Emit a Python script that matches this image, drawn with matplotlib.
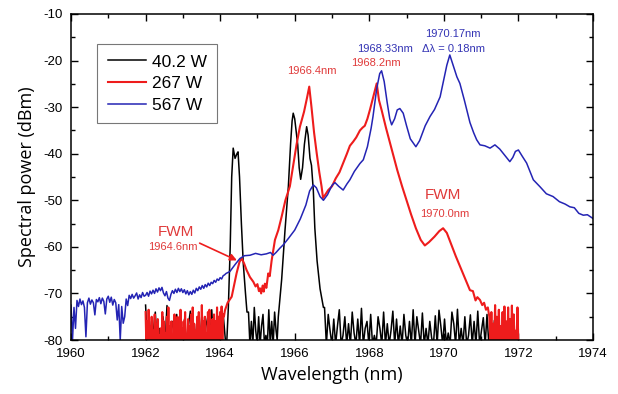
import numpy as np
import matplotlib
matplotlib.use("Agg")
import matplotlib.pyplot as plt
from matplotlib.ticker import MultipleLocator

# ---- data (wavelength in nm, power in dBm) ----
labels = ["40.2 W", "267 W", "567 W"]

# 40.2 W : noise floor + two signal peaks
black_noise_a = [-72.5, -81, -76, -81, -78, -74, -81, -77.5, -81, -75, -81, -72.6, -81, -78,
                 -76, -81, -74.5, -81, -79, -81, -75.5, -81, -77, -73.8, -81, -76.5, -81,
                 -78.5, -81, -74, -81, -77, -75, -81, -73.5, -81, -78, -81, -76, -81, -75, -80]
black_peaks_x = [1964.18, 1964.22, 1964.27, 1964.31, 1964.35, 1964.40, 1964.45, 1964.48,
                 1964.52, 1964.57, 1964.62, 1964.68, 1964.72]
black_peaks_y = [-80, -73, -60, -45, -38.8, -41, -40, -39.6, -45, -55, -63.5, -70, -74]
black_noise_b = [-74, -81, -76, -81, -73, -78, -81, -75, -81, -77, -74.5, -81, -79, -81,
                 -73.5, -81, -76, -81, -74, -78]
black_peak2_x = [1965.53, 1965.56, 1965.65, 1965.74, 1965.83, 1965.89, 1965.93, 1965.96,
                 1966.00, 1966.03, 1966.08, 1966.12, 1966.16, 1966.21, 1966.26, 1966.32,
                 1966.36, 1966.41, 1966.45, 1966.50, 1966.54, 1966.60, 1966.68, 1966.77]
black_peak2_y = [-80, -75, -67, -56.4, -47, -37.8, -33, -31.3, -32.5, -34.5, -38, -43,
                 -45.5, -43, -38, -34.2, -36, -41, -42.5, -48, -56, -63, -69, -73]
black_noise_c = [-73.0, -81, -74.5, -78, -81, -75.5, -81, -77, -73.5, -81, -79, -75, -81,
                 -76.5, -81, -74, -78.5, -81, -75.5, -81, -73.2, -81, -77.5, -76, -81, -74.5,
                 -81, -79, -81, -75, -77.5, -81, -74, -81, -76.5, -81, -78, -73.8, -81, -75.5,
                 -81, -77, -81, -74.5, -79, -81, -76, -81, -73.5, -81, -75, -78, -81, -74.2,
                 -81, -77.5, -81, -76, -79.5, -81, -74.8, -81, -73.6, -77, -81, -75.5, -81,
                 -78.5, -81, -74, -76.5, -81, -73.4, -81, -77.5, -81, -75, -81, -79, -74.6,
                 -81, -76, -81, -73.8, -81, -78, -75.2, -81, -74.5, -81, -77, -81, -75.8, -81,
                 -76.5, -81, -78.5, -81, -77, -81, -79, -81, -78, -81, -80]

# 267 W
red_noise_a = [-74, -81, -76, -81, -73.5, -81, -77, -81, -75, -81, -78, -81, -74.5, -81,
               -76.5, -81, -75.5, -81, -79, -81, -77.5, -81, -74, -81, -76, -81, -78.5, -81,
               -75, -81, -73, -81, -77, -81, -76, -81, -79.5, -81, -74.5, -81, -76.5, -81,
               -75, -81, -78, -81, -73.5, -81, -77.5, -81, -76, -81, -74, -81, -79, -81,
               -75.5, -81, -77, -81, -74.5, -81, -73, -81, -76.5, -81, -78, -81, -75, -81,
               -74, -81, -77.5, -81, -72.5, -81, -76, -81, -75, -81, -78.5, -81, -74, -81,
               -73.5, -81, -77, -81, -75.5, -81, -74.5, -81, -76, -81, -73, -81, -75, -81,
               -74, -81, -72.8, -81, -74.5]
red_main_x = [1964.10, 1964.13, 1964.20, 1964.31, 1964.38, 1964.44, 1964.52, 1964.58, 1964.64,
              1964.71, 1964.80, 1964.89, 1964.95, 1965.00, 1965.04, 1965.07, 1965.10, 1965.14,
              1965.17, 1965.20, 1965.24, 1965.29, 1965.33, 1965.38, 1965.47, 1965.56, 1965.65,
              1965.75, 1965.87, 1965.95, 1966.05, 1966.14, 1966.25, 1966.33, 1966.39, 1966.45,
              1966.52, 1966.59, 1966.66, 1966.72, 1966.76, 1966.82, 1966.90, 1967.00, 1967.10,
              1967.20, 1967.30, 1967.40, 1967.48, 1967.57, 1967.65, 1967.75, 1967.82, 1967.88,
              1967.95, 1968.02, 1968.10, 1968.15, 1968.20, 1968.26, 1968.33, 1968.45, 1968.60,
              1968.75, 1968.88, 1969.00, 1969.12, 1969.25, 1969.38, 1969.49, 1969.60, 1969.75,
              1969.88, 1969.98, 1970.08, 1970.20, 1970.32, 1970.45, 1970.58, 1970.70, 1970.78,
              1970.85, 1970.90, 1970.97, 1971.03, 1971.08, 1971.13, 1971.18, 1971.22]
red_main_y = [-75, -73.6, -72, -70.7, -68, -65.7, -63.2, -62.5, -63.5, -65, -66.5, -67.5,
              -68.5, -68, -69.5, -68.9, -70, -68.3, -69.6, -67.9, -68.8, -65.7, -66.3, -63,
              -58.5, -56.4, -53.5, -50, -47, -43, -38, -34.2, -31, -28, -25.6, -30, -35.5,
              -39.9, -44, -47, -49.5, -48.8, -47.8, -47, -45.3, -44, -42, -40, -38.3, -37.4,
              -36.5, -35, -34.4, -34, -32.5, -30.5, -28, -26.5, -24.9, -28.5, -30.6, -34.5,
              -39, -43.5, -47, -50, -53, -56, -58.5, -59.7, -59, -57.8, -56.6, -56, -57,
              -59.5, -62, -64.5, -67, -69.3, -69.5, -71.5, -70.8, -71.4, -72.5, -72, -73.5,
              -73, -75]
red_noise_b = [-81, -74, -81, -76.5, -81, -72.5, -81, -75, -81, -73.5, -81, -77, -81, -74,
               -81, -72.8, -81, -76, -81, -73, -81, -75.5, -81, -72.6, -81, -74.5, -81, -78,
               -81, -73, -81]

# 567 W
blue_noise_a = [-72.5, -80, -73, -77.5, -71.5, -72.8, -71.2, -72.4, -71.6, -73.0, -79.3, -72.0,
                -71.0, -72.3, -71.4, -72.0, -74.6, -71.3, -71.8, -70.9, -72.2, -71.0, -71.7,
                -74.4, -71.2, -70.6, -71.9, -70.8, -72.5, -71.3, -72.0, -75.7, -72.4, -80,
                -72.8, -76.4, -75.0, -71.2, -72.6, -70.4, -71.1, -70.2, -71.0, -70.5, -69.9,
                -71.2, -70.3, -70.9, -69.8, -70.6]
blue_noise_b = [-70.4, -69.8, -70.6, -69.5, -70.1, -69.3, -70.0, -69.0, -69.7, -68.8, -69.4,
                -68.7, -69.9, -70.5, -69.6, -71.0, -71.5, -70.2, -69.4, -70.0, -69.1, -69.8,
                -68.9, -69.6, -69.0, -69.8, -69.2, -70.1, -69.4, -70.3, -69.6, -70.2, -69.3,
                -69.9, -68.9, -69.4, -68.6, -69.1, -68.3, -68.9, -68.1, -68.6, -67.8, -68.3,
                -67.6, -67.9, -67.2, -67.6, -66.9, -67.2, -66.6, -66.9, -66.2, -66.0, -65.7]
blue_main_x = [1964.26, 1964.40, 1964.53, 1964.65, 1964.80, 1964.95, 1965.10, 1965.24, 1965.35,
               1965.42, 1965.50, 1965.60, 1965.70, 1965.83, 1966.00, 1966.15, 1966.30, 1966.40,
               1966.50, 1966.58, 1966.68, 1966.77, 1966.88, 1967.00, 1967.08, 1967.18, 1967.30,
               1967.40, 1967.48, 1967.60, 1967.75, 1967.84, 1967.95, 1968.05, 1968.10, 1968.20,
               1968.28, 1968.33, 1968.40, 1968.48, 1968.55, 1968.60, 1968.68, 1968.75, 1968.82,
               1968.91, 1969.00, 1969.10, 1969.25, 1969.35, 1969.50, 1969.63, 1969.75, 1969.90,
               1970.00, 1970.08, 1970.16, 1970.25, 1970.35, 1970.43, 1970.55, 1970.70, 1970.80,
               1970.88, 1970.97, 1971.10, 1971.24, 1971.37, 1971.50, 1971.65, 1971.77, 1971.85,
               1971.92, 1972.00, 1972.10, 1972.22, 1972.40, 1972.58, 1972.75, 1972.93, 1973.10,
               1973.25, 1973.38, 1973.50, 1973.62, 1973.74, 1973.85, 1974.00]
blue_main_y = [-65.3, -63.8, -62.5, -61.9, -61.8, -61.4, -61.7, -61.5, -61.2, -61.8, -61.2,
               -60.3, -59.5, -58.2, -56.4, -54, -51, -48, -46.7, -47.3, -49.2, -50, -48.8, -46.8,
               -46.2, -47, -47.8, -46.5, -45.6, -43.8, -42.1, -41.3, -38.5, -34.5, -32, -26,
               -22.8, -22.2, -24.5, -29, -32.5, -33.8, -32.5, -30.6, -30.3, -31.3, -34, -36.8,
               -38.5, -37.2, -34, -32, -30.5, -27.8, -24, -21, -18.8, -21, -23.5, -24.9, -28.5,
               -33.3, -35.5, -37, -38.1, -38.3, -38.8, -38.1, -39, -40.5, -41.7, -40.8, -39.5,
               -39.2, -40.5, -42, -45.6, -47.1, -48.6, -49.2, -50.3, -50.8, -51.4, -51.6, -52.8,
               -53.2, -53.1, -53.9]

RED = "#ee1c1c"
BLUE = "#2424b4"
RED_TXT = "#e03a3a"
BLUE_TXT = "#3434b4"

# assemble the three traces
bx = np.concatenate([np.linspace(1962.0, 1964.14, len(black_noise_a)), black_peaks_x,
                     np.linspace(1964.76, 1965.50, len(black_noise_b)), black_peak2_x,
                     np.linspace(1966.80, 1971.95, len(black_noise_c))])
by = np.concatenate([black_noise_a, black_peaks_y, black_noise_b, black_peak2_y, black_noise_c])

rx = np.concatenate([np.linspace(1962.0, 1964.08, len(red_noise_a)), red_main_x,
                     np.linspace(1971.25, 1972.0, len(red_noise_b))])
ry = np.concatenate([red_noise_a, red_main_y, red_noise_b])

ux = np.concatenate([np.linspace(1960.0, 1961.96, len(blue_noise_a)),
                     np.linspace(1962.0, 1964.16, len(blue_noise_b)), blue_main_x])
uy = np.concatenate([blue_noise_a, blue_noise_b, blue_main_y])

plt.rcParams["font.family"] = ["Liberation Sans", "DejaVu Sans"]
plt.rcParams["axes.unicode_minus"] = False

fig = plt.figure(figsize=(6.18, 3.94), dpi=100)
ax = fig.add_axes([0.1149, 0.137, 0.8446, 0.8275])

ax.plot(bx, by, color="black", lw=1.1, label=labels[0])
ax.plot(rx, ry, color=RED, lw=1.5, label=labels[1])
ax.plot(ux, uy, color=BLUE, lw=1.1, label=labels[2])

ax.set_xlim(1960, 1974)
ax.set_ylim(-80, -10)
ax.xaxis.set_major_locator(MultipleLocator(2))
ax.xaxis.set_minor_locator(MultipleLocator(1))
ax.yaxis.set_major_locator(MultipleLocator(10))
ax.yaxis.set_minor_locator(MultipleLocator(5))
ax.tick_params(which="both", direction="in", top=True, right=True, labelsize=9.5, width=1)
ax.tick_params(which="major", length=5)
ax.tick_params(axis="x", which="major", pad=6)
ax.tick_params(axis="y", which="major", pad=6)
ax.tick_params(which="minor", length=3)
for s in ax.spines.values():
    s.set_linewidth(1.1)

ax.set_xlabel("Wavelength (nm)", fontsize=13, family="Open Sans", labelpad=4)
ax.set_ylabel("Spectral power (dBm)", fontsize=13, family="Open Sans", labelpad=5)

leg = ax.legend(loc="upper left", bbox_to_anchor=(0.05, 0.908), fontsize=12.5, frameon=True,
                fancybox=False, edgecolor="#555555", handlelength=2.2, handletextpad=0.35,
                borderpad=0.6, labelspacing=0.38, borderaxespad=0)
leg.get_frame().set_linewidth(0.8)

# annotations
ax.text(1966.45, -22.3, "1966.4nm", color=RED_TXT, fontsize=8, ha="center", va="center")
ax.text(1968.17, -20.6, "1968.2nm", color=RED_TXT, fontsize=8, ha="center", va="center")
ax.text(1968.43, -17.5, "1968.33nm", color=BLUE_TXT, fontsize=8, ha="center", va="center")
ax.text(1970.27, -17.5, "\u0394\u03bb = 0.18nm", color=BLUE_TXT, fontsize=8, ha="center", va="center")
ax.text(1970.23, -14.3, "1970.17nm", color=BLUE_TXT, fontsize=8, ha="center", va="center")
ax.text(1969.98, -48.9, "FWM", color=RED_TXT, fontsize=11, ha="center", va="center")
ax.text(1970.02, -53.0, "1970.0nm", color=RED_TXT, fontsize=8, ha="center", va="center")
ax.text(1962.81, -56.9, "FWM", color=RED_TXT, fontsize=11, ha="center", va="center")
ax.text(1962.74, -60.0, "1964.6nm", color=RED_TXT, fontsize=8, ha="center", va="center")
ax.annotate("", xy=(1964.45, -62.9), xytext=(1963.45, -59.2),
            arrowprops=dict(arrowstyle="-|>", color=RED, lw=1.2, mutation_scale=10,
                            shrinkA=0, shrinkB=0))

fig.savefig("out.png", dpi=100)
